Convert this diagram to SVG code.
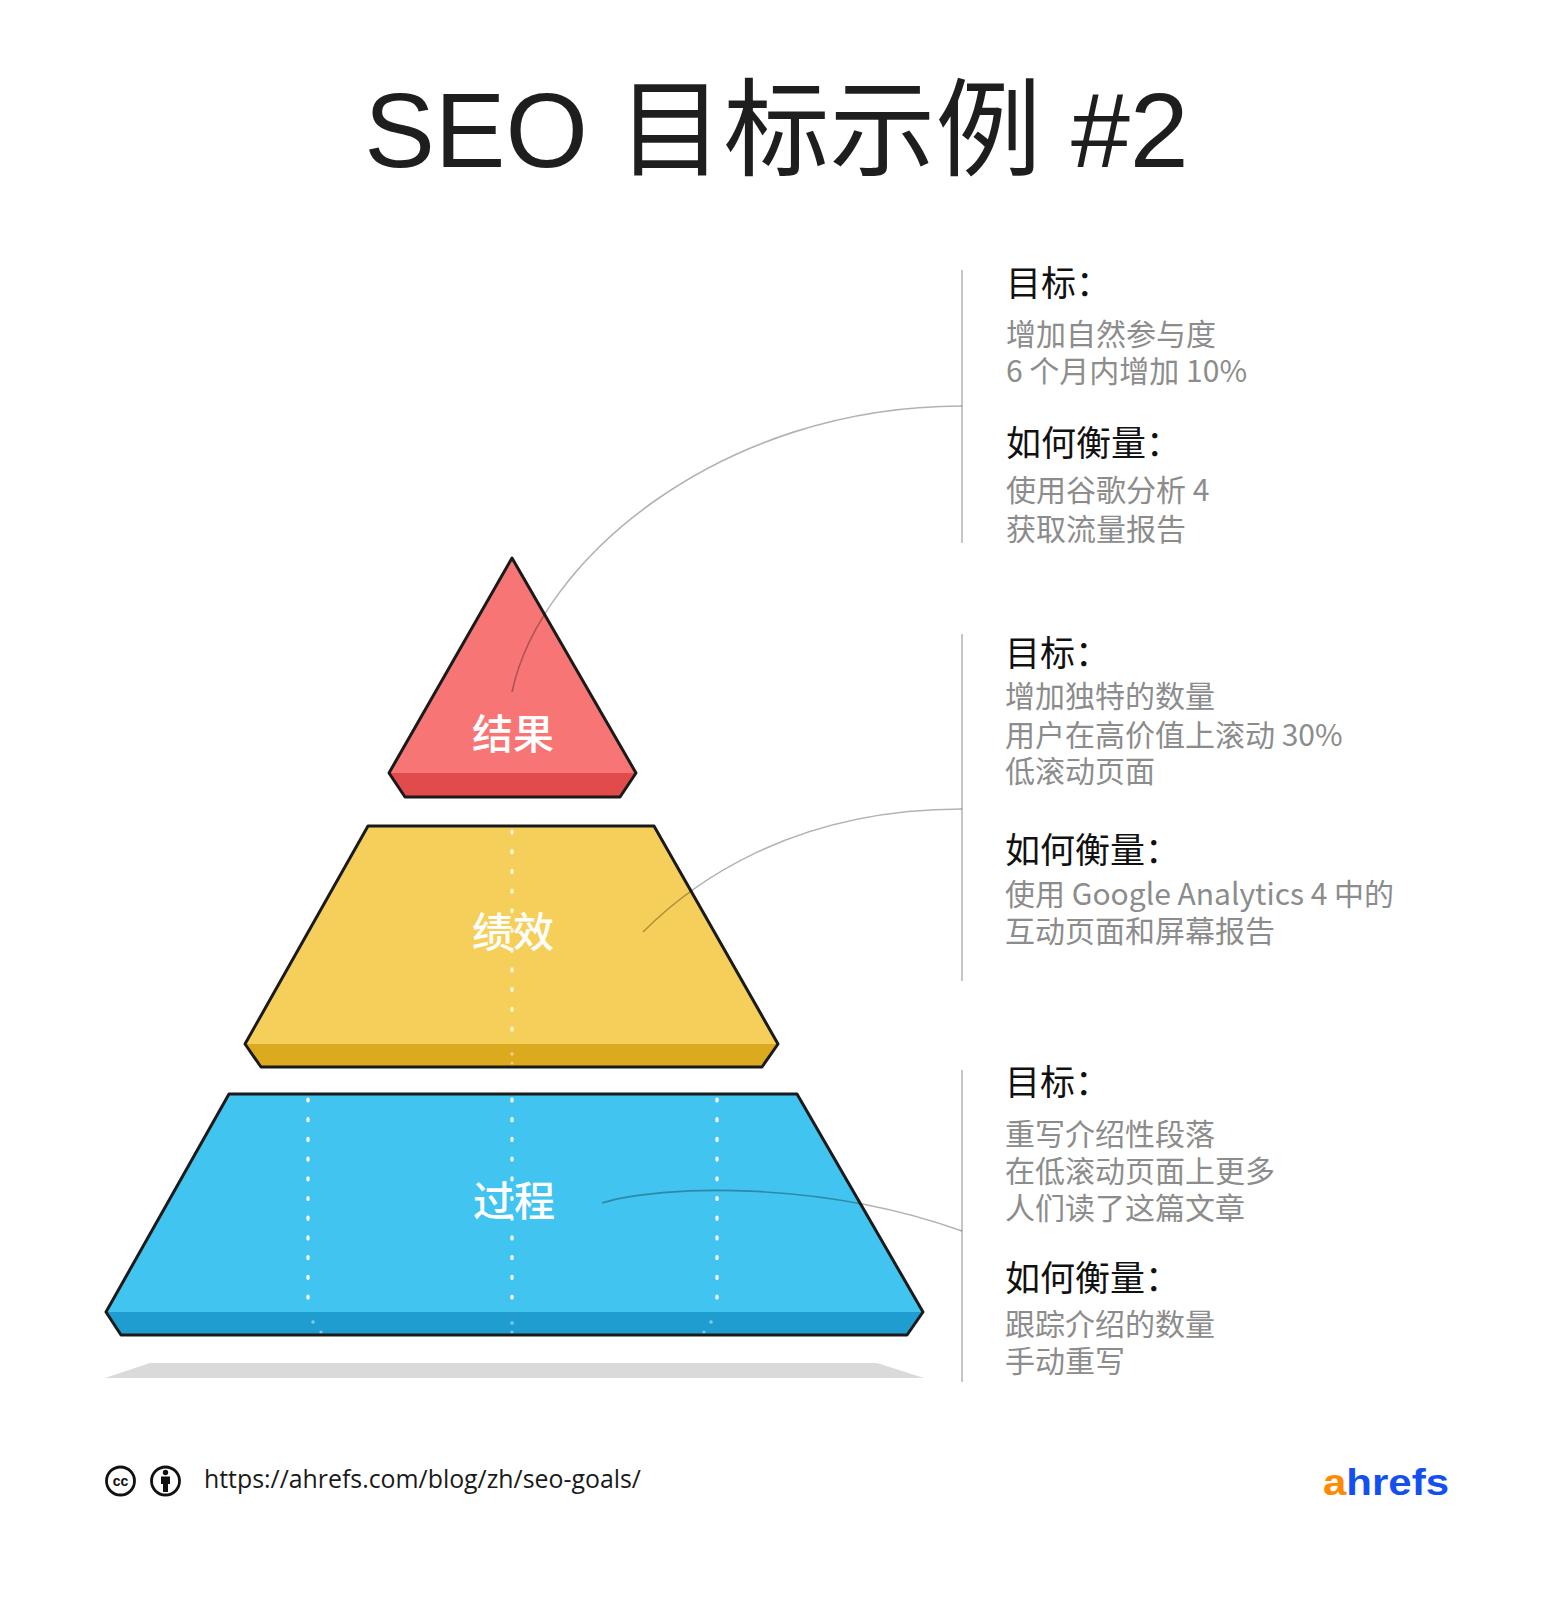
<svg xmlns="http://www.w3.org/2000/svg" width="1553" height="1600" viewBox="0 0 1553 1600">
<style>
.title{font-family:"Liberation Sans","Noto Sans CJK SC",sans-serif;font-size:106px;fill:#1e1e1e;font-weight:400}
.h{font-family:"Noto Sans CJK SC",sans-serif;font-size:35px;fill:#111;font-weight:400}
.t{font-family:"Noto Sans CJK SC",sans-serif;font-size:30px;fill:#8c8c8c}
.lbl{font-family:"Noto Sans CJK SC",sans-serif;font-size:41px;fill:#fff;font-weight:500;text-anchor:middle}
.outline{fill:none;stroke:#1a1a1a;stroke-width:3;stroke-linejoin:round}
.dots{fill:none;stroke:#fff;stroke-width:3.2;stroke-linecap:round;stroke-dasharray:2 17.7}
.fd{fill:#fff;opacity:0.45}
.conn{fill:none;stroke:#000;stroke-opacity:0.3;stroke-width:1.6}
.div{stroke:#c6c6c6;stroke-width:2}
.foot{font-family:"Open Sans","Noto Sans",sans-serif;font-size:25px;fill:#1a1a1a}
</style>
<rect width="1553" height="1600" fill="#fff"/>
<text class="title" x="776.5" y="167" text-anchor="middle">SEO 目标示例 #2</text>

<polygon id="shadow" points="150,1363 877,1363 924,1378 105,1378" fill="#dadada"/>

<g id="node-process">
<polygon points="229,1094 797,1094 923,1312 106,1312" fill="#41c4f0"/>
<polygon points="106,1312 923,1312 907,1335 121,1335" fill="#1f9dd0"/>
<line class="dots" x1="308" y1="1099" x2="308" y2="1312"/>
<line class="dots" x1="512" y1="1099" x2="512" y2="1312"/>
<line class="dots" x1="717" y1="1099" x2="717" y2="1312"/>
<circle class="fd" cx="313" cy="1322" r="1.8"/><circle class="fd" cx="321" cy="1332" r="1.6"/>
<circle class="fd" cx="512" cy="1323" r="1.8"/><circle class="fd" cx="512" cy="1332" r="1.6"/>
<circle class="fd" cx="711" cy="1322" r="1.8"/><circle class="fd" cx="704" cy="1332" r="1.6"/>
<polygon class="outline" points="229,1094 797,1094 923,1312 907,1335 121,1335 106,1312"/>
<text class="lbl" x="514" y="1216">过程</text>
</g>

<g id="node-performance">
<polygon points="368,826 654,826 778,1044 245,1044" fill="#f6cf5a"/>
<polygon points="245,1044 778,1044 762,1067 261,1067" fill="#dcaa1e"/>
<line class="dots" x1="512" y1="831" x2="512" y2="1044" stroke-opacity="0.8"/>
<circle class="fd" cx="512" cy="1054" r="1.8"/><circle class="fd" cx="512" cy="1063" r="1.6"/>
<polygon class="outline" points="368,826 654,826 778,1044 762,1067 261,1067 245,1044"/>
<text class="lbl" x="513" y="947">绩效</text>
</g>

<g id="node-result">
<polygon points="512,558 636,773 389,773" fill="#f87575"/>
<polygon points="389,773 636,773 620,797 405,797" fill="#e24b4b"/>
<polygon class="outline" points="512,558 636,773 620,797 405,797 389,773"/>
<text class="lbl" x="513" y="749">结果</text>
</g>

<g id="connectors">
<line class="div" x1="962" y1="270" x2="962" y2="543"/>
<line class="div" x1="962" y1="634" x2="962" y2="981"/>
<line class="div" x1="962" y1="1070" x2="962" y2="1382"/>
<path class="conn" d="M512,692 C540,560 720,406 962,406"/>
<path class="conn" d="M643,932 C690,885 790,809 962,809"/>
<path class="conn" d="M602,1203 C660,1185 820,1180 962,1231"/>
</g>

<g id="block-result">
<text class="h" x="1006" y="296">目标：</text>
<text class="t" x="1006" y="345">增加自然参与度</text>
<text class="t" x="1006" y="382">6 个月内增加 10%</text>
<text class="h" x="1006" y="456">如何衡量：</text>
<text class="t" x="1006" y="501">使用谷歌分析 4</text>
<text class="t" x="1006" y="540">获取流量报告</text>
</g>

<g id="block-performance">
<text class="h" x="1005" y="666">目标：</text>
<text class="t" x="1005" y="707">增加独特的数量</text>
<text class="t" x="1005" y="746">用户在高价值上滚动 30%</text>
<text class="t" x="1005" y="782">低滚动页面</text>
<text class="h" x="1005" y="863">如何衡量：</text>
<text class="t" x="1005" y="905">使用 Google Analytics 4 中的</text>
<text class="t" x="1005" y="942">互动页面和屏幕报告</text>
</g>

<g id="block-process">
<text class="h" x="1005" y="1095">目标：</text>
<text class="t" x="1005" y="1145">重写介绍性段落</text>
<text class="t" x="1005" y="1182">在低滚动页面上更多</text>
<text class="t" x="1005" y="1219">人们读了这篇文章</text>
<text class="h" x="1005" y="1291">如何衡量：</text>
<text class="t" x="1005" y="1335">跟踪介绍的数量</text>
<text class="t" x="1005" y="1372">手动重写</text>
</g>

<g id="footer">
<circle cx="120.5" cy="1481" r="14" fill="#fff" stroke="#111" stroke-width="2.8"/>
<text x="120.5" y="1486" text-anchor="middle" font-family="Liberation Sans, sans-serif" font-weight="700" font-size="14" fill="#111">cc</text>
<circle cx="165.5" cy="1481" r="14" fill="#fff" stroke="#111" stroke-width="2.8"/>
<circle cx="165.5" cy="1472.5" r="2.7" fill="#111"/>
<path d="M161,1476.5 h9 v7.5 h-2 v8 h-5 v-8 h-2 z" fill="#111"/>
<text class="foot" x="204" y="1488" textLength="437" lengthAdjust="spacingAndGlyphs">https://ahrefs.com/blog/zh/seo-goals/</text>
<text x="1323" y="1495" font-family="Liberation Sans, sans-serif" font-weight="700" font-size="37" textLength="126" lengthAdjust="spacingAndGlyphs"><tspan fill="#ff8a00">a</tspan><tspan fill="#1450f0">hrefs</tspan></text>
</g>
</svg>
